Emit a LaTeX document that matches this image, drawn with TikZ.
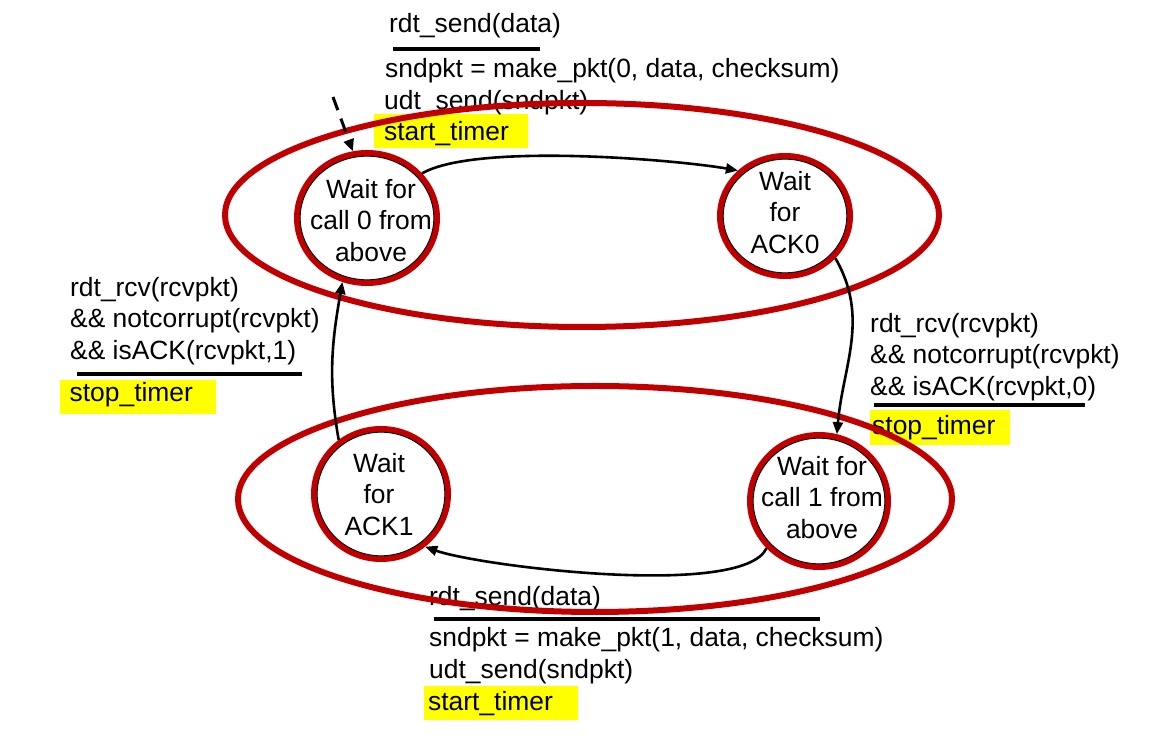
\documentclass[tikz,border=0pt]{standalone}
\usepackage{fontspec}
\setmainfont{Liberation Sans}
\usetikzlibrary{arrows.meta,shapes.geometric}
\definecolor{fsmred}{RGB}{192,0,0}
\definecolor{hl}{RGB}{255,255,0}
\begin{document}
\begin{tikzpicture}[x=1pt,y=1pt,
  txt/.style={font=\fontsize{26.4}{31.5}\selectfont, inner sep=0pt, anchor=base west},
  ctxt/.style={font=\fontsize{26.4}{31.5}\selectfont, inner sep=0pt, align=center},
  fsmstate/.style={ellipse, draw=fsmred, line width=6pt, inner sep=0pt, fill=white},
  ring/.style={line width=0.9pt, black},
  bigring/.style={draw=fsmred, line width=6pt},
  uline/.style={line width=3.5pt, black},
  hlbox/.style={fill=hl, draw=none},
  tr/.style={line width=2.6pt, -{Triangle[length=12pt,width=10pt]}},
]
\useasboundingbox (0,0) rectangle (1156,738);
\fill[white] (0,0) rectangle (1156,738);

% highlight boxes
\fill[hlbox] (374,590) rectangle (528,624);
\fill[hlbox] (60,324) rectangle (216,358);
\fill[hlbox] (870,293) rectangle (1010,328);
\fill[hlbox] (424,18) rectangle (578,52);

% top transition label
\node[txt] (ts1) at (389,705) {rdt\_send(data)};
\node[txt] (ts2) at (385,660) {sndpkt = make\_pkt(0, data, checksum)};
\node[txt] (ts3) at (384,628) {udt\_send(sndpkt)};
\node[txt] (ts4) at (384,597) {start\_timer};
\draw[uline] (393,689) -- (540,689);

% left transition label
\node[txt] (tl1) at (70,441) {rdt\_rcv(rcvpkt)};
\node[txt] (tl2) at (70,410) {\&\& notcorrupt(rcvpkt)};
\node[txt] (tl3) at (70,378) {\&\& isACK(rcvpkt,1)};
\node[txt] (tl4) at (69.5,336) {stop\_timer};
\draw[uline] (77,364) -- (302,364);

% right transition label
\node[txt] (tr1) at (870,405) {rdt\_rcv(rcvpkt)};
\node[txt] (tr2) at (870,374) {\&\& notcorrupt(rcvpkt)};
\node[txt] (tr3) at (870,342) {\&\& isACK(rcvpkt,0)};
\node[txt] (tr4) at (872,303) {stop\_timer};
\draw[uline] (874,333) -- (1085,333);

% bottom transition label
\node[txt] (tb1) at (429,132) {rdt\_send(data)};
\node[txt] (tb2) at (429,91) {sndpkt = make\_pkt(1, data, checksum)};
\node[txt] (tb3) at (429,59) {udt\_send(sndpkt)};
\node[txt] (tb4) at (428,27) {start\_timer};
\draw[uline] (434,119) -- (820,119);

% big ellipses (sender halves)
\draw[bigring] (582,523) ellipse [x radius=357, y radius=112];
\draw[bigring] (595,239) ellipse [x radius=357, y radius=113];

% states
\node[fsmstate, minimum width=140pt, minimum height=130pt] (c0) at (367,520) {};
\node[fsmstate, minimum width=130pt, minimum height=120pt] (c1) at (785,522) {};
\node[fsmstate, minimum width=134pt, minimum height=130pt] (c2) at (381,244) {};
\node[fsmstate, minimum width=138pt, minimum height=132pt] (c3) at (819,237) {};
\draw[ring] (c0.center) ellipse [x radius=66.8, y radius=61.8];
\draw[ring] (c1.center) ellipse [x radius=61.8, y radius=56.8];
\draw[ring] (c2.center) ellipse [x radius=63.8, y radius=61.8];
\draw[ring] (c3.center) ellipse [x radius=65.8, y radius=62.8];

\node[ctxt] (w0) at (371,517.5) {Wait for\\call 0 from\\above};
\node[ctxt] (w1) at (785,525.5) {Wait\\for\\ACK0};
\node[ctxt] (w2) at (379,243.5) {Wait\\for\\ACK1};
\node[ctxt] (w3) at (822,240.5) {Wait for\\call 1 from\\above};

% transitions
\coordinate (init) at (333,641);
\draw[tr, line width=3pt, dash pattern=on 14pt off 9pt] (init) -- (c0.102);
\draw[tr] (c0.39) to[out=30,in=170,looseness=0.5] (c1.136);
\draw[tr] (c1.-40) to[out=-60,in=85] (c3.75);
\draw[tr] (c3.222) to[out=-115,in=-20,looseness=0.42] (c2.-50);
\draw[tr] (c2.128) to[out=100,in=-100] (c0.249);
\end{tikzpicture}
\end{document}
